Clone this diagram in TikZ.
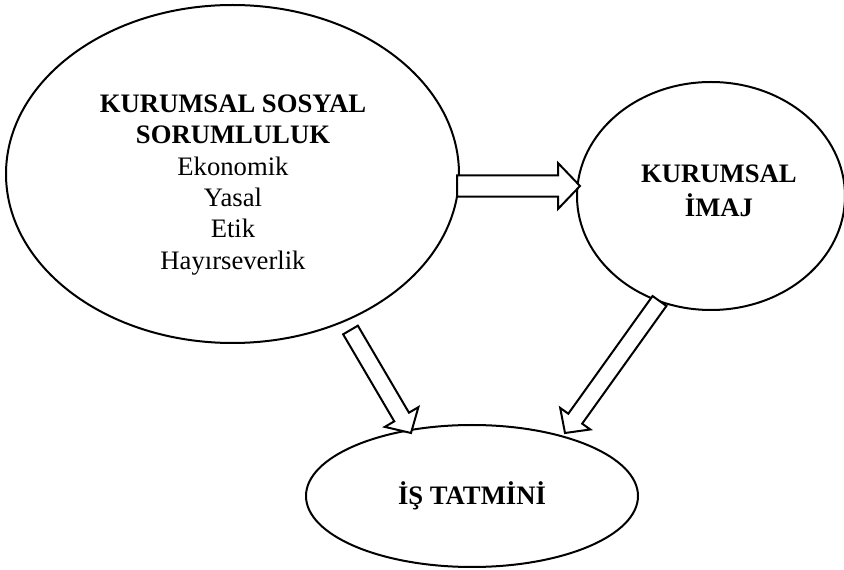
\documentclass[tikz,border=0pt]{standalone}
\usepackage{fontspec}
\setmainfont{Liberation Serif}
\usetikzlibrary{positioning,calc,shapes.geometric}
\tikzset{oval/.style={draw, ellipse, line width=1.5pt, inner sep=0pt, align=center}}
\tikzset{blockarr/.style={draw, line width=1.5pt, fill=white, line join=miter}}
% hollow block arrow: tail, tip, half shaft, half head, head length
\newcommand{\blockarrow}[5]{%
	\path ($(#2)!#5!(#1)$) coordinate (hb);
	\draw[blockarr] ($(#1)!#3!90:(#2)$) -- ($(hb)!#3!-90:(#1)$)
		-- ($(hb)!#4!-90:(#1)$) -- (#2) -- ($(hb)!#4!90:(#1)$)
		-- ($(hb)!#3!90:(#1)$) -- ($(#1)!#3!-90:(#2)$) -- cycle;}
\begin{document}
\begin{tikzpicture}[x=0.75pt, y=-0.75pt, font=\fontsize{20}{23.5}\selectfont]
	\useasboundingbox (0,0) rectangle (844,570);
	\node[oval, minimum width=339.75pt, minimum height=253.5pt] (KSS) at (232.5,174) {};
	\node[align=center] (KSSt) at (233,185) {\textbf{KURUMSAL SOSYAL}\\
		\textbf{SORUMLULUK}\\ Ekonomik\\ Yasal\\ Etik\\ Hayırseverlik};
	\node[oval, minimum width=201pt, minimum height=171pt] (IMJ) at (711,196) {};
	\node[align=center, font=\fontsize{20}{25.5}\selectfont] (IMJt) at (719,191)
		{\textbf{KURUMSAL}\\ \textbf{İMAJ}};
	\node[oval, minimum width=249pt, minimum height=106.5pt] (IST) at (472,496)
		{\textbf{İŞ TATMİNİ}};
	% arrow ends
	\coordinate (a1) at (457,186);
	\coordinate (b1) at (580,186);
	\coordinate (a2) at (350.5,330);
	\coordinate (b2) at (411,433);
	\coordinate (a3) at (659.5,301);
	\coordinate (b3) at (565,433);
	\blockarrow{a1}{b1}{7.9pt}{17.25pt}{16.5pt}
	\blockarrow{a2}{b2}{6.4pt}{14.6pt}{13.9pt}
	\blockarrow{a3}{b3}{6.4pt}{13.9pt}{13.2pt}
\end{tikzpicture}
\end{document}
